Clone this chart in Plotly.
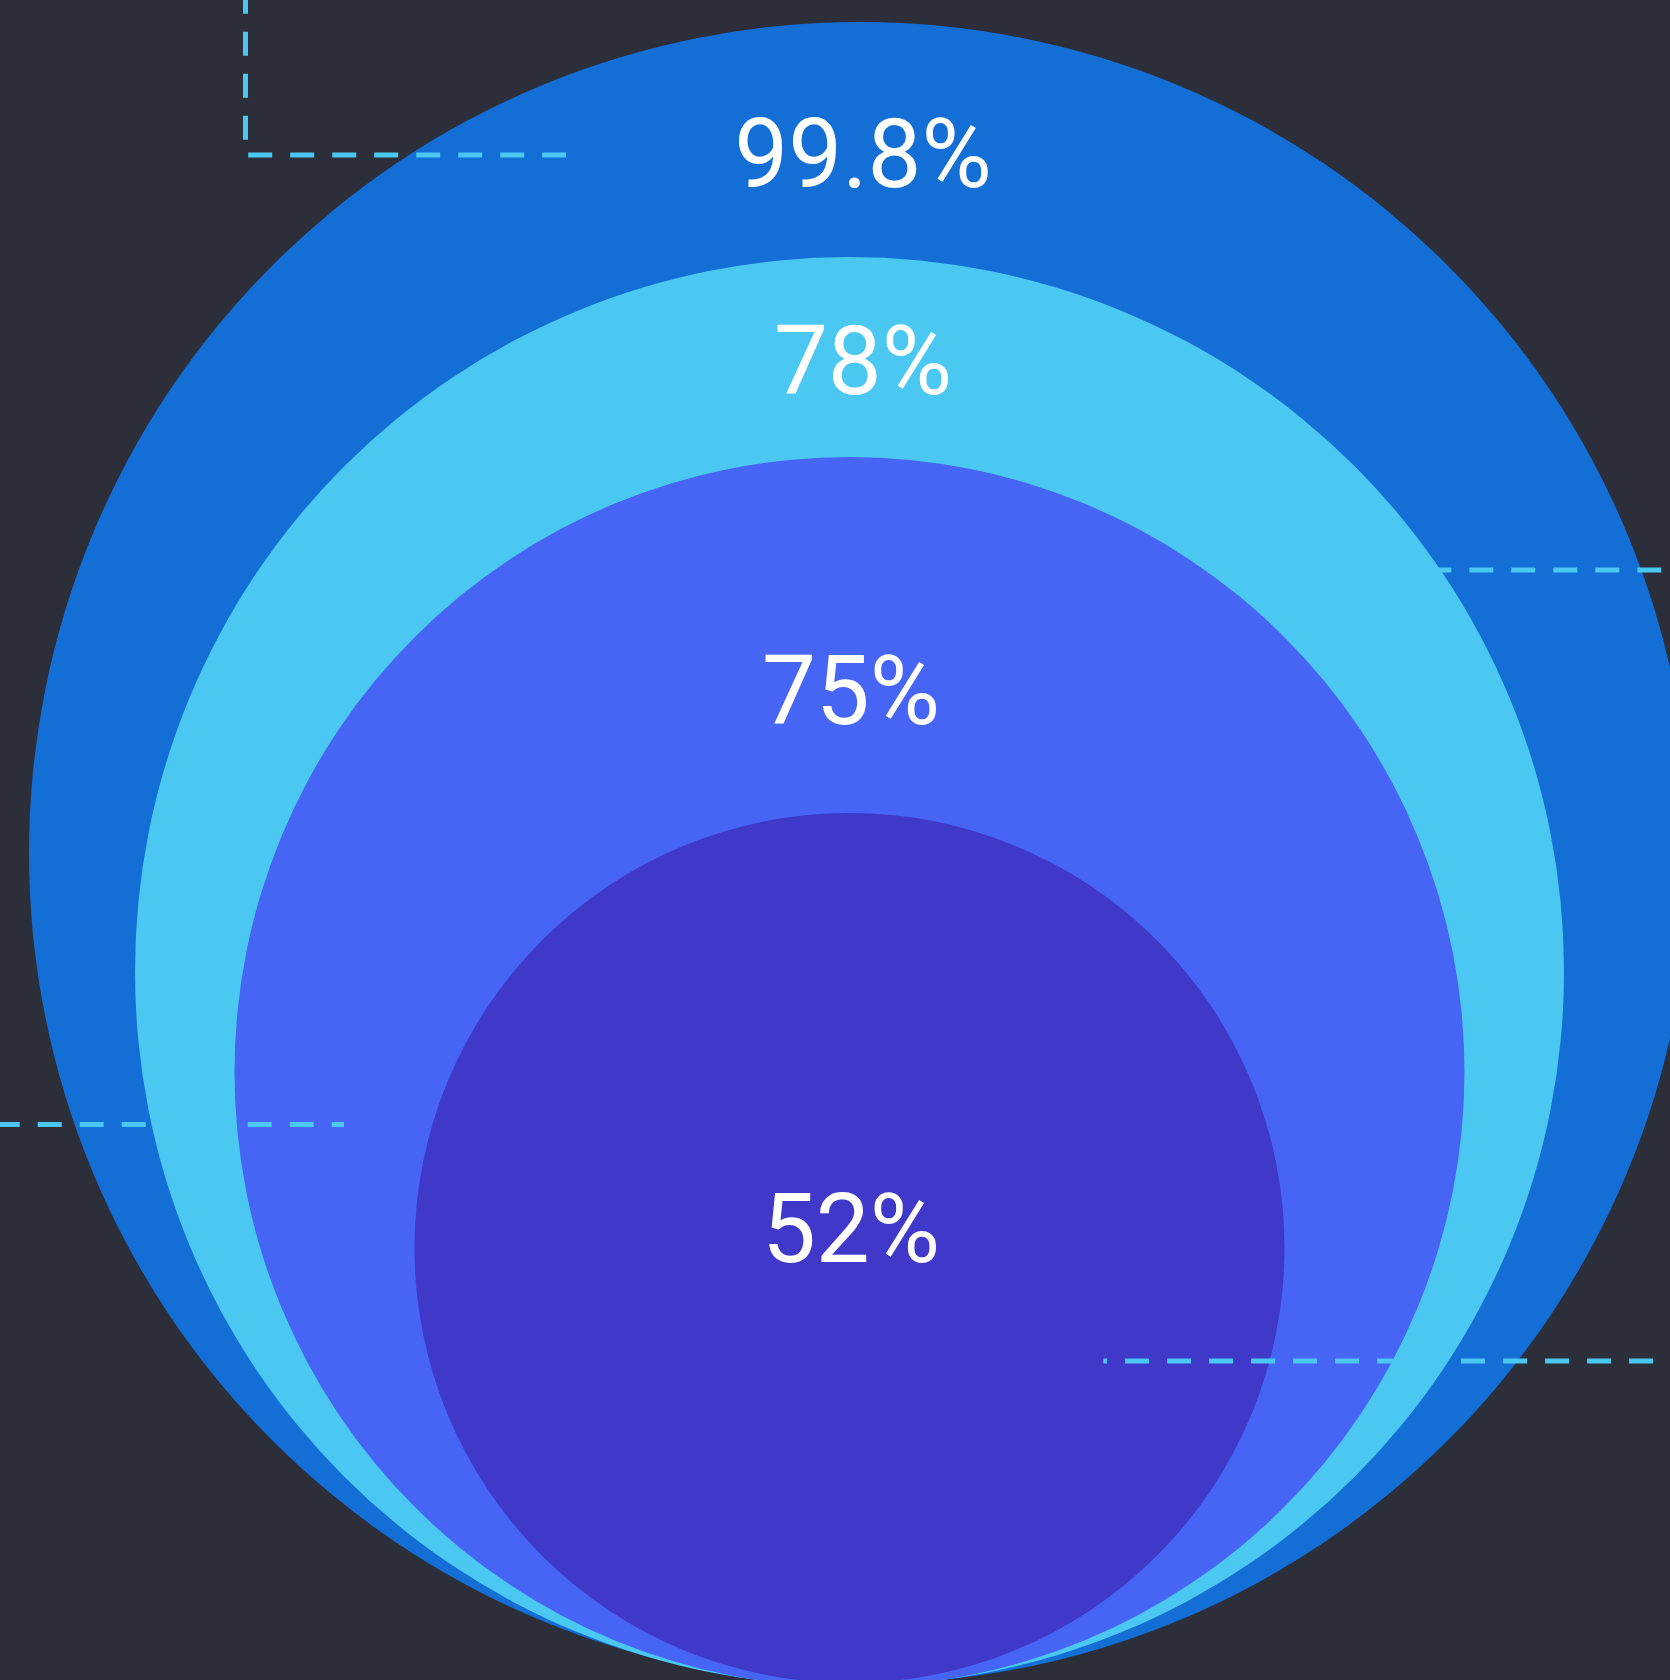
import plotly.graph_objects as go

# ---- data ----
labels = ["99.8%", "78%", "75%", "52%"]
values = [99.8, 78, 75, 52]
colors = ["#136ED6", "#4BC8F1", "#4765F5", "#3F38C9"]

# ---- layout geometry (pixel-space axes) ----
W, H = 1670, 1680
BG = "#2C2E3A"
DASH_COLOR = "#4BC8F1"
circle_cx = [860, 849.5, 849.5, 849.5]
circle_cy = [853, 971.5, 1072, 1248]
circle_r = [831, 714.5, 615, 435]
label_x = [863, 863, 851, 851]
label_y = [163, 369.5, 700, 1237.5]

# callout dashed lines (polylines, in drawing order)
callouts = [
    ([245.5, 245.5, 566], [-10.3, 155, 155]),
    ([1301.3, 1720], [570, 570]),
    ([-4.3, 344], [1124.5, 1124.5]),
    ([1695.1, 1103.3], [1361, 1361]),
]

fig = go.Figure()

shapes = []
for cx, cy, r, c in zip(circle_cx, circle_cy, circle_r, colors):
    shapes.append(dict(type="circle", xref="x", yref="y",
                       x0=cx - r, x1=cx + r, y0=cy - r, y1=cy + r,
                       fillcolor=c, line=dict(width=0), layer="below"))

for xs, ys in callouts:
    fig.add_trace(go.Scatter(x=xs, y=ys, mode="lines",
                             line=dict(color=DASH_COLOR, width=5, dash="24px,18px"),
                             hoverinfo="skip", showlegend=False))

fig.add_trace(go.Scatter(x=label_x, y=label_y, mode="text", text=labels,
                         textposition="middle center",
                         textfont=dict(family="Roboto", size=96, color="#FFFFFF"),
                         hoverinfo="skip", showlegend=False))

fig.update_layout(
    width=W, height=H,
    margin=dict(l=0, r=0, t=0, b=0),
    paper_bgcolor=BG, plot_bgcolor=BG,
    shapes=shapes,
    xaxis=dict(range=[0, W], visible=False, fixedrange=True),
    yaxis=dict(range=[H, 0], visible=False, fixedrange=True),
    showlegend=False,
)

fig.write_html(
    "out.html",
    config={"displayModeBar": False, "staticPlot": True},
    post_script="document.body.style.margin='0';document.body.style.background='#2C2E3A';document.body.style.overflow='hidden';",
)
